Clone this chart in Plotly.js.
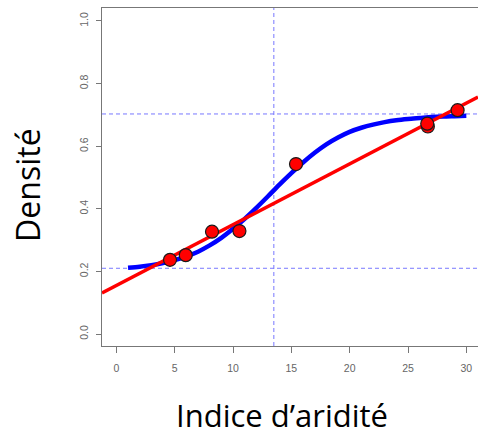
<!DOCTYPE html>
<html>
<head>
<meta charset="utf-8">
<script src="https://cdn.plot.ly/plotly-3.0.1.min.js"></script>
<style>html,body{margin:0;padding:0;background:#fff;}#chart{width:478px;height:435px;}</style>
</head>
<body>
<div id="chart"></div>
<script>
// Observed points (aridity index, density)
const obsX = [4.6, 5.95, 8.2, 10.55, 15.4, 26.7, 26.65, 29.25];
const obsY = [0.237, 0.252, 0.327, 0.329, 0.543, 0.663, 0.672, 0.715];

// Fitted sigmoid curve
const curveX = [1, 2, 3, 4, 5, 6, 7, 8, 9, 10, 11, 12, 13, 14, 15, 16, 17, 18, 19, 20, 21, 22, 23, 24, 25, 26, 27, 28, 29, 30];
const curveY = [0.212, 0.215, 0.220, 0.227, 0.236, 0.248, 0.263, 0.283, 0.307, 0.336, 0.368, 0.403, 0.440, 0.478, 0.514, 0.548, 0.579, 0.606, 0.628, 0.646, 0.659, 0.669, 0.677, 0.683, 0.687, 0.690, 0.693, 0.695, 0.696, 0.697];

// Linear fit (end points)
const lineX = [-1.23, 31.0];
const lineY = [0.131, 0.757];

// Reference lines
const vLineX = 13.5;
const hLineY = [0.21, 0.703];

const xTicks = [0, 5, 10, 15, 20, 25, 30];
const yTicks = [0.0, 0.2, 0.4, 0.6, 0.8, 1.0];
const yTickText = ["0.0", "0.2", "0.4", "0.6", "0.8", "1.0"];

const dashStyle = {color: "#7878ff", width: 1, dash: "4px,3px"};
const shapes = [
  {type: "line", xref: "x", yref: "paper", x0: vLineX, x1: vLineX, y0: 0, y1: 1, line: dashStyle, layer: "below"}
].concat(hLineY.map(v => ({type: "line", xref: "paper", yref: "y", x0: 0, x1: 1, y0: v, y1: v, line: dashStyle, layer: "below"})));

const traces = [
  {x: curveX, y: curveY, mode: "lines", line: {color: "#0000ff", width: 4.5, shape: "spline", smoothing: 0.8}, hoverinfo: "skip"},
  {x: lineX, y: lineY, mode: "lines", line: {color: "#ff0000", width: 3.5}, hoverinfo: "skip"},
  {x: obsX, y: obsY, mode: "markers", marker: {color: "#ff0000", size: 13, line: {color: "#1a1a1a", width: 1.2}}, hoverinfo: "skip"}
];

const tickFont = {family: "Liberation Sans, Arial, sans-serif", size: 10.5, color: "#666"};
const layout = {
  width: 478, height: 435,
  margin: {l: 102, r: 0, t: 8, b: 89},
  paper_bgcolor: "#fff", plot_bgcolor: "#fff",
  showlegend: false,
  xaxis: {
    range: [-1.23, 31.0], tickvals: xTicks, ticktext: xTicks.map(String),
    showgrid: false, zeroline: false, showline: true, mirror: true, linecolor: "#777", linewidth: 1,
    ticks: "outside", ticklen: 6, tickcolor: "#777", tickfont: tickFont, ticklabelstandoff: 6
  },
  yaxis: {
    range: [-0.0383, 1.0415], tickvals: yTicks, ticktext: yTickText, tickangle: -90,
    showgrid: false, zeroline: false, showline: true, linecolor: "#777", linewidth: 1,
    ticks: "outside", ticklen: 5, tickcolor: "#777", tickfont: tickFont, ticklabelstandoff: 4
  },
  shapes: shapes,
  annotations: [
    {text: "Indice d’aridité", xref: "paper", yref: "paper", x: 0.479, y: -0.204, xanchor: "center", yanchor: "middle", showarrow: false,
     font: {family: "Open Sans, sans-serif", size: 31, color: "#000"}},
    {text: "Densité", xref: "paper", yref: "paper", x: -0.2, y: 0.476, xanchor: "center", yanchor: "middle", textangle: -90, showarrow: false,
     font: {family: "Open Sans, sans-serif", size: 32, color: "#000"}}
  ]
};

Plotly.newPlot("chart", traces, layout, {displayModeBar: false, staticPlot: true});
</script>
</body>
</html>
